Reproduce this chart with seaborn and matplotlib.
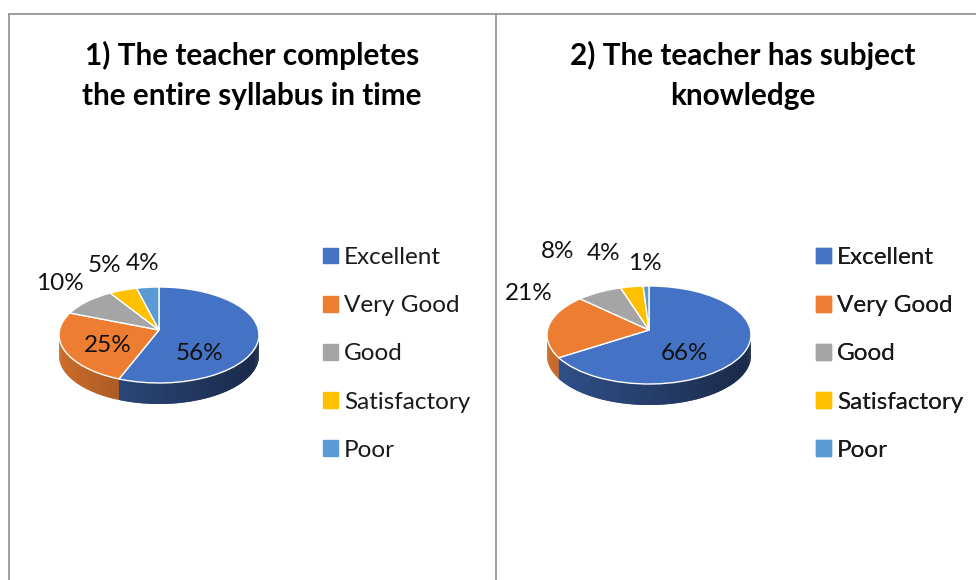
"""Two tilted 3D-look pie charts of teacher feedback."""
import numpy as np
import matplotlib
matplotlib.use("Agg")
import matplotlib.pyplot as plt
from matplotlib.patches import Patch
from matplotlib.transforms import Transform
import seaborn as sns

sns.set_style("white")
plt.rcParams['font.family'] = ['Lato', 'DejaVu Sans']

categories = ['Excellent', 'Very Good', 'Good', 'Satisfactory', 'Poor']
colors = sns.color_palette(['#4472C4', '#ED7D31', '#A5A5A5', '#FFC000', '#5B9BD5'])
values_q1 = [56, 25, 10, 5, 4]
values_q2 = [66, 21, 8, 4, 1]
title_q1 = '1) The teacher completes\nthe entire syllabus in time'
title_q2 = '2) The teacher has subject\nknowledge'

LINE = '#8e8e8e'
TEXT_SIZE = 17.5
TITLE_SIZE = 21.4
DEPTH = 21
# rim brightness (left edge, drop towards right edge) for each slice
rim_shade = [(0.72, 0.35), (0.86, 0.42), (0.7, 0.3), (0.7, 0.3), (0.7, 0.3)]


class Tilt(Transform):
    """Maps the unit pie to a slightly perspective ellipse in pixel coords."""
    input_dims = 2
    output_dims = 2

    def __init__(self, cx, cy, a, b):
        super().__init__()
        self.cx, self.cy, self.a, self.b = cx, cy, a, b

    def transform_non_affine(self, values):
        u, v = values[:, 0], values[:, 1]
        x = self.cx + self.a * u * (1 - 0.1 * v) / 1.005
        y = self.cy - self.b * v + 5 * v ** 2
        return np.column_stack([x, y])


def draw_pie(ax, values, cx, a, b, title, title_x, labels_xy, legend_x):
    tilt = Tilt(cx, 330, a, b)
    wedges, _ = ax.pie(values, colors=colors, startangle=90, counterclock=False)
    for w in wedges:
        w.set_transform(tilt + ax.transData)
        w.set_zorder(2)

    # side wall, cut in thin strips for the horizontal shading
    ends = 90 - np.cumsum(values) * 3.6
    starts = np.r_[90, ends[:-1]]
    for i in range(len(values)):
        th = np.arange(starts[i], ends[i] - 0.5, -1.0)
        th = np.deg2rad(np.r_[th, ends[i]])
        th = th[np.sin(th) < -0.1]
        if len(th) < 2:
            continue
        edge = tilt.transform(np.column_stack([np.cos(th), np.sin(th)]))
        for j in range(len(edge) - 1):
            t = (edge[j, 0] - cx + a) / (2 * a)
            shade = rim_shade[i][0] - rim_shade[i][1] * t
            c = tuple(np.array(colors[i]) * shade)
            # each strip runs under the next one so no seams show
            k = min(j + 2, len(edge) - 1)
            xs = [edge[j, 0], edge[k, 0], edge[k, 0], edge[j, 0]]
            ys = [edge[j, 1], edge[k, 1], edge[k, 1] + DEPTH, edge[j, 1] + DEPTH]
            ax.fill(xs, ys, color=c, lw=0, zorder=1)

    for val, (x, y) in zip(values, labels_xy):
        ax.text(x, y, f'{val}%', ha='center', va='center', fontsize=TEXT_SIZE,
                color='#111111', zorder=3)

    ax.text(title_x, 75, title, ha='center', va='center', fontsize=TITLE_SIZE,
            fontweight='bold', linespacing=1.52, color='black')

    handles = [Patch(color=c, label=n) for c, n in zip(colors, categories)]
    leg = ax.legend(handles=handles, loc='upper left', bbox_to_anchor=(legend_x, 247),
                    bbox_transform=ax.transData, frameon=False, fontsize=TEXT_SIZE,
                    labelspacing=1.12, handlelength=0.62, handleheight=0.62,
                    handletextpad=0.24, borderpad=0, borderaxespad=0, labelcolor='#1a1a1a')
    ax.add_artist(leg)


fig = plt.figure(figsize=(9.76, 5.8), dpi=100)
ax = fig.add_axes([0, 0, 1, 1])

draw_pie(ax, values_q1, 159, 100, 48, title_q1, 252,
         [(199, 354), (108, 346), (60, 283), (104, 265), (143, 264)], 323)
draw_pie(ax, values_q2, 649, 102, 49, title_q2, 743,
         [(685, 354), (529, 294), (558, 251), (604, 254), (645, 264)], 816)

# panel border
ax.plot([9, 9], [580, 14], color=LINE, lw=1.2, zorder=0)
ax.plot([9, 976], [14, 14], color=LINE, lw=1.2, zorder=0)
ax.plot([496, 496], [14, 580], color=LINE, lw=1.2, zorder=0)

ax.set_aspect('auto')
ax.set_xlim(0, 976)
ax.set_ylim(580, 0)
ax.axis('off')

fig.savefig('out.png', dpi=100, facecolor='white')
plt.close(fig)
